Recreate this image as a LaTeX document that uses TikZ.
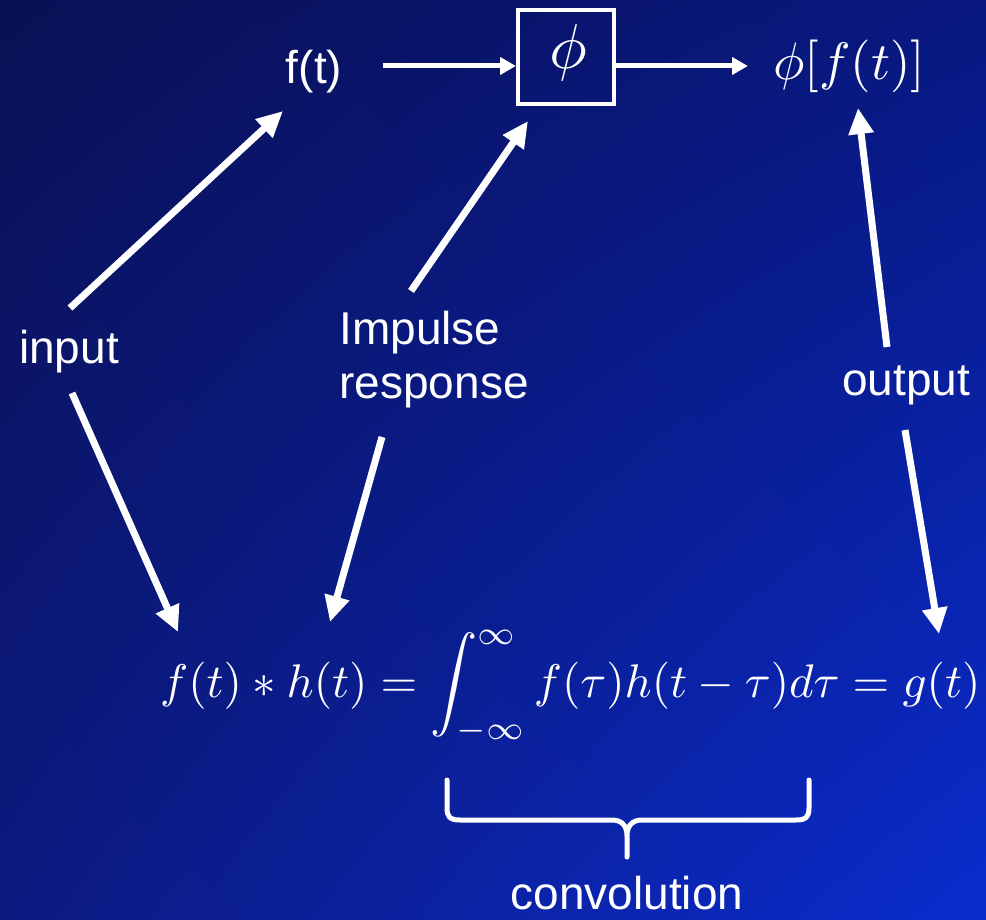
\documentclass[tikz,border=0pt]{standalone}
\usepackage{fontspec}
\setmainfont{Liberation Sans}
\usetikzlibrary{arrows.meta,shadings}
\definecolor{bgUL}{RGB}{10,16,84}
\definecolor{bgUR}{RGB}{8,24,128}
\definecolor{bgLL}{RGB}{12,26,128}
\definecolor{bgLR}{RGB}{10,44,205}
\tikzset{
  lbl/.style={text=white, inner sep=0pt, font=\fontsize{46}{54}\selectfont},
  bigarrow/.style={white, line width=7pt, -{Triangle[length=26pt,width=24pt]}},
  smallarrow/.style={white, line width=5pt, -{Triangle[length=16pt,width=17pt]}},
  mathlbl/.style={text=white, inner sep=0pt},
}
\begin{document}
\begin{tikzpicture}[x=1pt,y=-1pt]
\shade[upper left=bgUL, upper right=bgUR, lower left=bgLL, lower right=bgLR] (0,0) rectangle (986,920);
\useasboundingbox (0,0) rectangle (986,920);

% top row
\node[lbl] (ft) at (314,72) {f(t)};
\node[draw=white, line width=4pt, minimum width=96pt, minimum height=94pt, inner sep=0pt] (box) at (566,57) {};
\node[mathlbl] (phi) at (568,53) {\resizebox{!}{44pt}{$\phi$}};
\node[mathlbl, anchor=west] (out) at (773,66) {\resizebox{152pt}{!}{$\phi[f(t)]$}};

\coordinate (rowy) at (0,66);
\coordinate (a0s) at (383,66);
\coordinate (a0e) at (748,66);
\draw[smallarrow] (a0s) -- (box.west |- rowy);
\draw[smallarrow] (box.east |- rowy) -- (a0e);

% labels
\node[lbl] (input) at (69,352) {input};
\node[lbl, align=left] (imp) at (434,360) {Impulse\\response};
\node[lbl] (output) at (906,385) {output};

% formula
\node[mathlbl, anchor=base west] (eq) at (160,697)
  {\resizebox{820pt}{!}{$\displaystyle f(t)*h(t)=\int_{-\infty}^{\infty} f(\tau)h(t-\tau)d\tau=g(t)$}};

% arrow endpoints
\coordinate (a1s) at (70,308);   \coordinate (a1e) at (283,111);
\coordinate (a2s) at (411,291);  \coordinate (a2e) at (528,121);
\coordinate (a3s) at (887,347);  \coordinate (a3e) at (858,108);
\coordinate (a4s) at (72,393);   \coordinate (a4e) at (178,632);
\coordinate (a5s) at (382,437);  \coordinate (a5e) at (330,622);
\coordinate (a6s) at (905,430);  \coordinate (a6e) at (939,634);

\draw[bigarrow] (a1s) -- (a1e);
\draw[bigarrow] (a2s) -- (a2e);
\draw[bigarrow] (a3s) -- (a3e);
\draw[bigarrow] (a4s) -- (a4e);
\draw[bigarrow] (a5s) -- (a5e);
\draw[bigarrow] (a6s) -- (a6e);

% brace
\draw[white, line width=5pt, line cap=round, line join=round]
  (447,780) -- (447,808) .. controls (447,817) and (450,820) .. (460,820)
  -- (612,820) .. controls (622,820) and (627,826) .. (627,836) -- (627,857)
  (627,836) .. controls (627,826) and (632,820) .. (642,820)
  -- (796,820) .. controls (806,820) and (809,817) .. (809,808) -- (809,780);
\node[lbl] (conv) at (627,893) {convolution};
\end{tikzpicture}
\end{document}
